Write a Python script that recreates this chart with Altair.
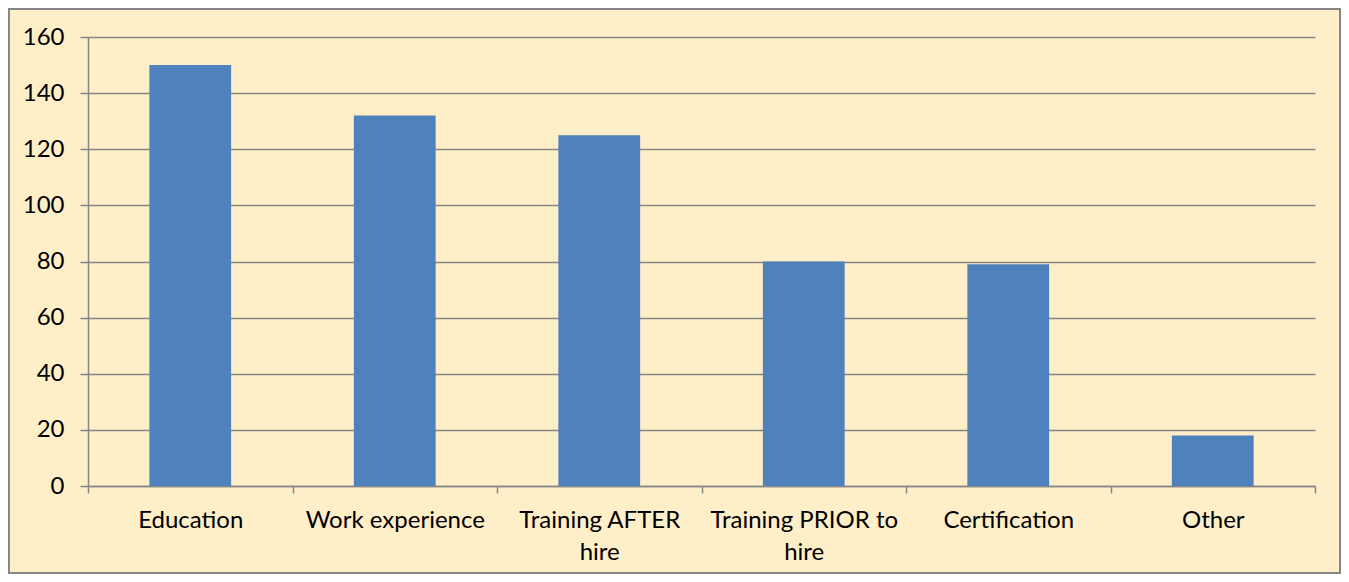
import altair as alt
import pandas as pd

categories = ["Education", "Work experience", "Training AFTER hire",
              "Training PRIOR to hire", "Certification", "Other"]
values = [150, 132, 125, 80, 79, 18]
y_ticks = [0, 20, 40, 60, 80, 100, 120, 140, 160]

df = pd.DataFrame({"category": categories, "value": values})

FONT = "Lato"
GRAY = "#868686"
BG = "#FFEFC9"

label_expr = ("datum.value == 'Training AFTER hire' ? ['Training AFTER', 'hire'] : "
              "datum.value == 'Training PRIOR to hire' ? ['Training PRIOR to', 'hire'] : datum.value")

bars = alt.Chart(df).mark_bar(color="#4F81BD", width=alt.RelativeBandSize(0.4)).encode(
    x=alt.X("category:N", sort=categories,
            scale=alt.Scale(paddingInner=0, paddingOuter=0),
            axis=alt.Axis(title=None, labelAngle=0, labelExpr=label_expr,
                          tickBand="extent", tickSize=7, tickColor=GRAY, tickWidth=1.5,
                          domainColor=GRAY, domainWidth=1.5,
                          labelFont=FONT, labelFontSize=24, labelColor="#000000",
                          labelLimit=400, labelOverlap=False,
                          labelPadding=15, labelLineHeight=32, labelBaseline="top")),
    y=alt.Y("value:Q", scale=alt.Scale(domain=[0, 160], nice=False),
            axis=alt.Axis(title=None, values=y_ticks, grid=True, gridColor=GRAY,
                          gridWidth=1.5, tickSize=8, tickColor=GRAY, tickWidth=1.5,
                          domainColor=GRAY, domainWidth=1.5,
                          labelFont=FONT, labelFontSize=24, labelColor="#000000",
                          labelPadding=16)),
)

border = alt.Chart(df).mark_rect(fill=None, stroke=GRAY, strokeWidth=2).encode(
    x=alt.value(-79), x2=alt.value(1227 + 25), y=alt.value(-28), y2=alt.value(449 + 87)
)

chart = alt.layer(border, bars).properties(
    width=1227, height=449,
    autosize=alt.AutoSizeParams(type="none"),
    padding={"left": 80, "top": 29, "right": 26, "bottom": 88},
    background=BG,
).configure_view(stroke=None)

chart.save("out.html", embed_options={"renderer": "svg", "actions": False})
